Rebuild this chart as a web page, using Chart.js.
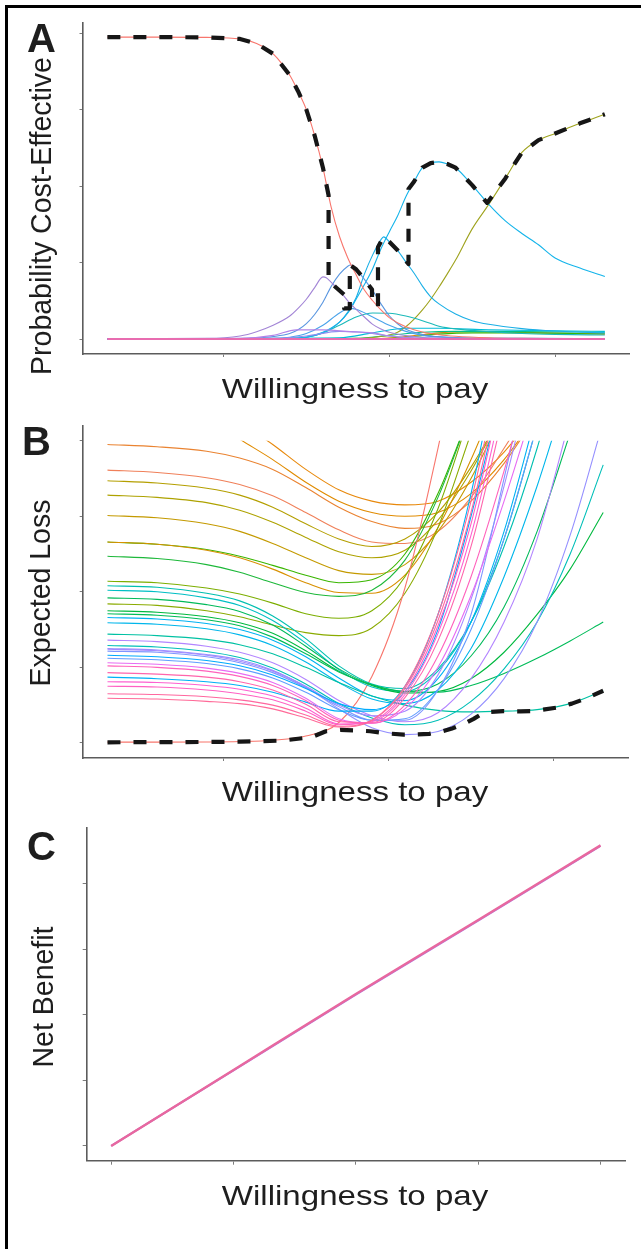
<!DOCTYPE html>
<html>
<head>
<meta charset="utf-8">
<script src="https://cdn.jsdelivr.net/npm/chart.js@4.4.1/dist/chart.umd.min.js"></script>
<style>
  html, body { margin: 0; padding: 0; background: #fff; }
  #page { position: relative; width: 641px; height: 1249px; overflow: hidden; background: #fff; }
  #frame { position: absolute; left: 5px; top: 5px; width: 700px; height: 1300px; border-left: 3px solid #000; border-top: 3px solid #000; }
  canvas { position: absolute; left: 0; }
  .tag { position: absolute; font: bold 40px/40px "Liberation Sans", Arial, sans-serif; color: #1e1e1e; }
  .title { position: absolute; font: 28.5px/28.5px "Liberation Sans", Arial, sans-serif; color: #1e1e1e; white-space: nowrap; }
  .title.x { transform: translate(-50%, -50%) scaleX(1.16); }
  .title.y { transform: translate(-50%, -50%) scaleX(1.05) rotate(-90deg); }
</style>
</head>
<body>
<div id="page">
  <div id="frame"></div>
  <canvas id="ceac" width="641" height="390" style="top:0px"></canvas>
  <canvas id="loss" width="641" height="390" style="top:395px"></canvas>
  <canvas id="nb" width="641" height="390" style="top:800px"></canvas>

  <div class="tag" style="left:27px;top:18px">A</div>
  <div class="title y" style="left:40.5px;top:216px">Probability Cost-Effective</div>
  <div class="title x" style="left:355px;top:387.5px">Willingness to pay</div>

  <div class="tag" style="left:22px;top:421px">B</div>
  <div class="title y" style="left:40px;top:593px">Expected Loss</div>
  <div class="title x" style="left:355px;top:791px">Willingness to pay</div>

  <div class="tag" style="left:27px;top:826px">C</div>
  <div class="title y" style="left:42.5px;top:996.5px">Net Benefit</div>
  <div class="title x" style="left:355px;top:1195px">Willingness to pay</div>
</div>
<script>
// ---------- tick positions (willingness to pay in thousands) ----------
const wtpTicksAB = [50, 100, 150];
const probTicks = [0, 0.25, 0.5, 0.75, 1];
const lossTicks = [0, 1, 2, 3, 4];
const wtpTicksC = [0, 50, 100, 150, 200];
const nbTicks = [0, 1, 2, 3, 4];

// ---------- A: probability cost-effective, [wtp, probability] ----------
const probRed = [[15,.987],[30,.987],[45,.986],[55,.981],[60,.966],[65,.932],[70,.862],[72.5,.81],[75,.75],[77.5,.665],[80,.56],[82.5,.43],[85,.335],[87.5,.265],[90,.21],[92.5,.16],[95,.125],[97.5,.095],[100,.07],[105,.04],[110,.023],[115,.014],[120,.009],[130,.004],[140,.002],[165,0]];
const probPurple = [[15,.001],[45,.002],[55,.01],[60,.024],[65,.045],[70,.075],[72.5,.1],[75,.13],[77.5,.168],[80,.203],[81,.2],[82.5,.185],[85,.158],[87.5,.125],[90,.097],[92.5,.072],[95,.048],[97.5,.033],[100,.022],[105,.011],[110,.005],[120,.002],[140,.001],[165,.001]];
const probBlue = [[15,0],[55,.001],[60,.003],[65,.008],[70,.018],[72.5,.03],[75,.05],[77.5,.08],[80,.12],[82.5,.172],[85,.212],[87.5,.238],[88.3,.242],[90,.228],[92.5,.195],[95,.158],[97.5,.115],[100,.076],[102.5,.05],[105,.032],[110,.015],[115,.007],[120,.004],[130,.002],[165,.001]];
const probCyan = [[15,0],[65,.001],[70,.003],[75,.006],[80,.02],[82.5,.034],[85,.055],[87.5,.088],[90,.135],[92.5,.212],[95,.275],[97.5,.325],[98.3,.334],[100,.318],[102.5,.29],[105,.252],[107.5,.215],[110,.173],[112.5,.138],[115,.115],[120,.082],[125,.06],[130,.048],[140,.034],[150,.026],[165,.02]];
const probCyanWide = [[15,0],[65,.001],[70,.002],[75,.006],[80,.022],[85,.055],[87.5,.085],[90,.13],[92.5,.178],[95,.23],[97.5,.295],[100,.35],[102.5,.402],[105,.465],[107.5,.515],[110,.56],[112.5,.575],[115,.579],[117.5,.572],[120,.56],[125,.503],[130,.44],[135,.386],[140,.345],[145,.308],[150,.265],[157.5,.232],[165,.204]];
const probOlive = [[15,0],[85,.001],[90,.002],[95,.005],[100,.013],[102.5,.022],[105,.04],[107.5,.065],[110,.095],[112.5,.13],[115,.17],[117.5,.213],[120,.258],[125,.36],[130,.44],[135,.525],[140,.61],[145,.65],[150,.672],[157.5,.705],[165,.735]];
const probSmallBlue = [[15,0],[65,.002],[70,.006],[75,.018],[80,.045],[85,.085],[88,.1],[90,.097],[95,.072],[100,.045],[105,.025],[110,.012],[120,.005],[140,.002],[165,.001]];
const probSmallTeal = [[15,0],[70,.002],[75,.006],[80,.02],[85,.045],[90,.072],[95,.085],[100,.084],[105,.075],[110,.06],[115,.042],[120,.033],[130,.024],[140,.018],[150,.015],[165,.013]];
const probSmallPurple = [[15,0],[55,.002],[65,.012],[72,.03],[80,.03],[88,.024],[95,.02],[100,.01],[105,.004],[115,.001],[165,0]];
const probSmallViolet = [[15,0],[65,.002],[75,.01],[85,.025],[92,.022],[100,.01],[110,.003],[165,0]];
const probTailOrange = [[15,0],[95,.001],[105,.008],[115,.02],[125,.025],[140,.022],[165,.016]];
const probTailGreen = [[15,0],[95,.001],[105,.006],[115,.016],[125,.02],[140,.02],[165,.017]];
const probTailSea = [[15,0],[90,.002],[100,.012],[110,.022],[120,.025],[140,.024],[165,.022]];
const probTailSky = [[15,0],[85,.004],[95,.02],[105,.035],[115,.035],[130,.03],[150,.027],[165,.025]];
const probFlat = [[15,0],[165,0]];
// strategy with the highest expected net benefit at each wtp
const probFrontier = [[15,.987],[30,.987],[45,.986],[55,.981],[60,.966],[65,.932],[70,.862],[72.5,.81],[75,.75],[77.5,.665],[80,.56],[81.7,.47],
  [81.7,.195],[83.7,.171],[86.4,.145],[86.4,.1],[88.1,.1],[88.1,.242],[90,.228],[92.5,.195],[94.8,.162],
  [94.8,.125],[96.6,.105],[96.6,.3],[98.3,.334],[100,.318],[102.5,.29],[105.8,.245],
  [105.8,.49],[107.5,.515],[110,.56],[112.5,.575],[115,.579],[117.5,.572],[120,.56],[125,.503],[129.5,.445],
  [135,.525],[140,.61],[145,.65],[150,.672],[157.5,.705],[165,.735]];

// ---------- B: expected loss on a shared wtp grid ----------
const lossWtp = [15, 30, 45, 55, 65, 75, 85, 95, 105, 115, 125, 135, 145, 155, 165];
const lossUpper = [
  [5.2,5.0,4.6,4.25,3.95,3.62,3.35,3.2,3.15,3.2,3.45,3.85,4.4],
  [4.75,4.6,4.3,4.02,3.75,3.45,3.2,3.05,3.0,3.05,3.3,3.75,4.35],
  [3.95,3.92,3.86,3.77,3.62,3.38,3.12,2.93,2.84,2.9,3.2,3.7,4.35],
  [3.61,3.58,3.51,3.42,3.27,3.05,2.82,2.66,2.64,2.8,3.25,3.9,4.6],
  [3.47,3.44,3.37,3.28,3.12,2.9,2.7,2.6,2.7,3.05,3.65,4.4],
  [3.28,3.25,3.18,3.08,2.92,2.72,2.53,2.45,2.55,2.95,3.6,4.4],
  [3.01,2.98,2.9,2.8,2.64,2.45,2.28,2.23,2.36,2.8,3.5,4.4],
  [2.66,2.63,2.56,2.47,2.35,2.22,2.12,2.16,2.5,3.3,4.4],
  [2.66,2.63,2.55,2.45,2.3,2.12,1.99,1.98,2.22,2.85,3.75,4.8],
  [2.47,2.44,2.36,2.26,2.12,1.99,1.94,2.02,2.42,3.25,4.4],
  [2.14,2.12,2.05,1.97,1.85,1.71,1.65,1.75,2.2,3.1,4.4],
  [1.84,1.82,1.75,1.67,1.56,1.46,1.42,1.52,1.98,2.85,4.1]
];
const lossLower = [
  [2.08,2.06,1.98,1.88,1.68,1.38,1.02,0.78,0.72,0.98,1.6,2.6,3.9,5.5],
  [2.02,2.0,1.92,1.82,1.62,1.32,0.97,0.74,0.68,0.95,1.6,2.7,4.2],
  [1.92,1.9,1.83,1.74,1.56,1.28,0.98,0.77,0.68,0.78,1.15,1.8,2.8,4.1],
  [1.75,1.73,1.67,1.59,1.45,1.22,0.95,0.76,0.66,0.68,0.85,1.2,1.7,2.3,3.05],
  [1.71,1.69,1.63,1.55,1.4,1.18,0.94,0.77,0.68,0.67,0.76,0.92,1.12,1.35,1.6],
  [1.66,1.64,1.58,1.5,1.36,1.14,0.86,0.62,0.56,0.85,1.6,2.8,4.4],
  [1.59,1.57,1.51,1.43,1.29,1.07,0.8,0.58,0.52,0.7,1.25,2.2,3.4,4.8],
  [1.44,1.42,1.37,1.3,1.18,1.0,0.8,0.62,0.5,0.43,0.41,0.42,0.44,0.52,0.69],
  [1.36,1.34,1.28,1.2,1.06,0.84,0.56,0.36,0.28,0.4,0.85,1.6,2.7,4.3],
  [1.29,1.27,1.21,1.13,0.99,0.78,0.52,0.33,0.24,0.3,0.55,0.98,1.6,2.5,3.68],
  [1.25,1.23,1.17,1.1,0.96,0.74,0.45,0.2,0.11,0.15,0.38,0.85,1.6,2.75,4.25],
  [1.24,1.22,1.16,1.08,0.95,0.75,0.5,0.36,0.42,0.9,1.9,3.4,5.2],
  [1.215,1.2,1.14,1.06,0.93,0.73,0.48,0.3,0.3,0.7,1.7,3.5,5.5],
  [1.16,1.14,1.09,1.02,0.9,0.72,0.52,0.44,0.68,1.5,3.0,4.8],
  [1.12,1.1,1.05,0.98,0.86,0.67,0.44,0.3,0.32,0.7,1.5,2.7,4.2],
  [0.87,0.85,0.81,0.76,0.67,0.54,0.42,0.42,0.75,1.7,3.3,5.5],
  [1.06,1.04,0.99,0.92,0.8,0.59,0.32,0.26,0.45,1.0,1.95,3.2,4.6],
  [1.02,1.0,0.95,0.88,0.76,0.56,0.3,0.26,0.5,1.15,2.2,3.6,5.2],
  [0.93,0.91,0.87,0.81,0.7,0.51,0.28,0.27,0.6,1.35,2.6,4.4],
  [0.81,0.8,0.76,0.71,0.62,0.46,0.25,0.28,0.64,1.45,2.75,4.6],
  [0.75,0.74,0.7,0.65,0.57,0.42,0.24,0.29,0.68,1.55,2.9,4.8],
  [0.65,0.64,0.61,0.57,0.5,0.37,0.22,0.3,0.72,1.62,3.05,5.0],
  [0.59,0.58,0.55,0.52,0.45,0.33,0.21,0.3,0.75,1.7,3.2,5.2]
];
const lossRed = [0.01,0.01,0.012,0.018,0.035,0.09,0.27,0.88,2.05,3.9,6.0];
// expected loss of the optimal strategy, [wtp, loss]
const lossFrontier = [[15,.008],[30,.01],[45,.012],[55,.016],[67.7,.03],[76.7,.075],[81.1,.154],[85.5,.172],[90,.165],[94.5,.154],[99,.127],[104.6,.11],[108,.112],[112.4,.12],[116,.15],[119,.186],[122.5,.245],[125.8,.318],[129.1,.406],[134.7,.42],[140,.418],[143.7,.42],[151.4,.47],[155.5,.52],[159.3,.58],[165,.69]];

// ---------- C: net benefit ----------
const nbWtp = [0, 50, 100, 150, 200];
const nbBest = [0, 1.16, 2.32, 3.45, 4.59];
const nbNext = [0, 1.155, 2.31, 3.44, 4.58];

// ---------- styling ----------
const upperColors = ['#E8890C','#E08B00','#EA8331','#F0805A','#B49F00','#AEA200','#C49A00','#39B600','#D89000','#1DB83A','#7CAE00','#8AAB00'];
const lowerColors = ['#00BFB0','#00BFC4','#00BA5A','#00B93F','#00BC59','#00B2F3','#00B6EB','#00C1A3','#B385FF','#00BFB8','#9590FF','#A58AFF','#7F96FF','#00ABFD','#619CFF','#00B0F6','#E76BF3','#FF62BC','#FF65AC','#FD61D1','#FF61C3','#FF679F','#FF6A98'];
const FRONTIER = { color: '#161616', width: 4.2, dash: [13, 13] };
const AXIS_GAP = 8;

function pairs(p) { return p.map(([x, y]) => ({ x, y })); }
function onGrid(grid, vals) { return vals.map((v, i) => ({ x: grid[i], y: v })); }
function curve(data, color, width) {
  return { data, borderColor: color, borderWidth: width || 1.1, pointRadius: 0, fill: false, cubicInterpolationMode: 'monotone' };
}
function frontier(data) {
  return { data, borderColor: FRONTIER.color, borderWidth: FRONTIER.width, borderDash: FRONTIER.dash, borderCapStyle: 'butt', borderJoinStyle: 'round', pointRadius: 0, fill: false, tension: 0 };
}
// later entries are painted above earlier ones
function stack(list) { list.forEach((d, i) => { d.order = list.length - i; }); return list; }

function axis(range, ticks, tickLen, dir) {
  return {
    type: 'linear', min: range[0], max: range[1],
    afterFit(s) { if (dir === 'x') s.height = AXIS_GAP; else s.width = AXIS_GAP; },
    afterBuildTicks(s) { s.ticks = ticks.map(v => ({ value: v })); },
    ticks: { display: false },
    grid: { display: true, drawOnChartArea: false, drawTicks: true, tickLength: tickLen, color: '#7c7c7c', lineWidth: 1 },
    border: { display: true, color: '#5c5c5c', width: 1.6 }
  };
}

function panel(id, canvasTop, canvasH, area, xr, yr, xt, yt, tickLen, datasets, plugins) {
  return new Chart(document.getElementById(id), {
    type: 'line',
    data: { datasets },
    options: {
      responsive: false, animation: false, devicePixelRatio: 1, events: [],
      layout: { padding: {
        left: area.left - AXIS_GAP, right: 641 - area.right,
        top: area.top - canvasTop, bottom: canvasTop + canvasH - area.bottom - AXIS_GAP } },
      plugins: { legend: { display: false }, tooltip: { enabled: false } },
      scales: { x: axis(xr, xt, tickLen, 'x'), y: axis(yr, yt, tickLen, 'y') }
    },
    plugins: plugins || []
  });
}

// lines are cut where the loss leaves the 0-4 window
const lossWindow = {
  id: 'lossWindow',
  beforeDatasetsDraw(chart) {
    const { ctx, chartArea: a, scales: { y } } = chart;
    const top = y.getPixelForValue(4);
    ctx.save(); ctx.beginPath(); ctx.rect(a.left, top, a.right - a.left, a.bottom - top); ctx.clip();
  },
  afterDatasetsDraw(chart) { chart.ctx.restore(); }
};

// ----- panel A -----
panel('ceac', 0, 390, { left: 82.5, right: 629.7, top: 22.7, bottom: 354 }, [7.5, 172.5], [-0.049, 1.034], wtpTicksAB, probTicks, 3,
  stack([
    curve(pairs(probTailOrange), '#E58700'),
    curve(pairs(probTailGreen), '#39B600'),
    curve(pairs(probTailSea), '#00C08B'),
    curve(pairs(probTailSky), '#00BCD8'),
    curve(pairs(probOlive), '#9FA31E'),
    curve(pairs(probSmallTeal), '#1BB9B9'),
    curve(pairs(probCyanWide), '#14B4EA'),
    curve(pairs(probCyan), '#1AAFE6'),
    curve(pairs(probSmallBlue), '#4AA3EA'),
    curve(pairs(probBlue), '#5996E0'),
    curve(pairs(probSmallViolet), '#8F8FF0'),
    curve(pairs(probSmallPurple), '#B283E8'),
    curve(pairs(probPurple), '#A385D6'),
    curve(pairs(probRed), '#F8766D'),
    curve(pairs(probFlat), '#00BFC4', 1.2),
    curve(pairs(probFlat), '#C77CFF', 1.2),
    curve(pairs(probFlat), '#E86CB0', 1.8),
    frontier(pairs(probFrontier))
  ]));

// ----- panel B -----
panel('loss', 395, 390, { left: 82.7, right: 628, top: 425.6, bottom: 758 }, [7.5, 172.5], [-0.2, 4.2], wtpTicksAB, lossTicks, 3,
  stack([
    ...lossUpper.map((v, i) => curve(onGrid(lossWtp, v), upperColors[i])),
    curve(onGrid(lossWtp, lossRed), '#F8766D'),
    ...lossLower.map((v, i) => curve(onGrid(lossWtp, v), lowerColors[i])),
    frontier(pairs(lossFrontier))
  ]), [lossWindow]);

// ----- panel C -----
panel('nb', 800, 390, { left: 86.7, right: 625, top: 828, bottom: 1160.7 }, [-10, 210], [-0.225, 4.855], wtpTicksC, nbTicks, 4,
  stack([
    curve(onGrid(nbWtp, nbNext), '#B07AE0', 2),
    curve(onGrid(nbWtp, nbBest), '#E8689F', 2.4)
  ]));
</script>
</body>
</html>
